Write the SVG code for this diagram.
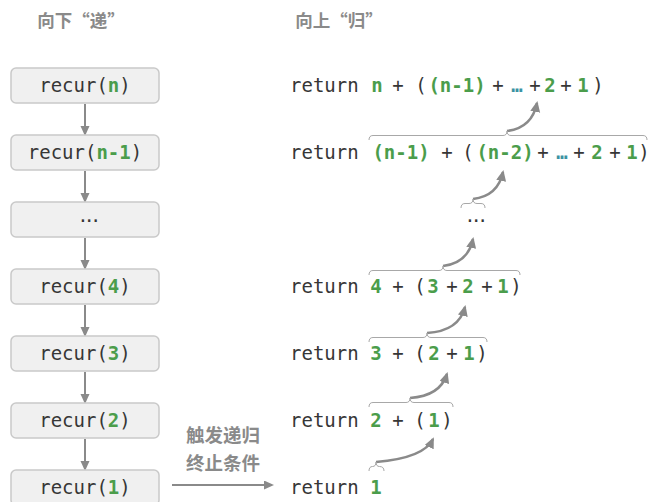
<svg xmlns="http://www.w3.org/2000/svg" width="649" height="502" viewBox="0 0 649 502">
<defs>
<style>
.box{fill:#f0f0f0;stroke:#c9c9c9;stroke-width:1.5}
.mono{font-family:"DejaVu Sans Mono","Liberation Mono",monospace;font-size:19px;fill:#363636}
.t{text-anchor:middle}
.g{fill:#4b9d4b;font-weight:bold}
.e{fill:#3b93a3;font-weight:bold}
.hd{font-family:"Noto Sans CJK SC","Noto Sans",sans-serif;font-size:17.5px;font-weight:bold;fill:#8a8a8a;text-anchor:middle}
.lbl{font-family:"Noto Sans CJK SC","Noto Sans",sans-serif;font-size:18.5px;font-weight:bold;fill:#8a8a8a;text-anchor:middle}
.conn{stroke:#8a8a8a;stroke-width:2;fill:none}
.curve{stroke:#8a8a8a;stroke-width:2.5;fill:none}
.brace{stroke:#a8a8a8;stroke-width:1;fill:none}
</style>
<marker id="ah" markerUnits="userSpaceOnUse" markerWidth="10" markerHeight="10" refX="8" refY="4.5" orient="auto">
<path d="M0,0 L10,4.5 L0,9 z" fill="#8a8a8a"/>
</marker>
<marker id="ah2" markerUnits="userSpaceOnUse" markerWidth="12" markerHeight="12" refX="9" refY="5" orient="auto">
<path d="M0,0 L11,5 L0,10 z" fill="#8a8a8a"/>
</marker>
</defs>
<rect width="649" height="502" fill="#ffffff"/>

<g id="headers">
<text class="hd" x="81" y="27">向下“递”</text>
<text class="hd" x="339" y="27">向上“归”</text>
</g>

<g id="connectors">
<line class="conn" x1="85" y1="104" x2="85" y2="134" marker-end="url(#ah)"/>
<line class="conn" x1="85" y1="171" x2="85" y2="201" marker-end="url(#ah)"/>
<line class="conn" x1="85" y1="238" x2="85" y2="268" marker-end="url(#ah)"/>
<line class="conn" x1="85" y1="305" x2="85" y2="335" marker-end="url(#ah)"/>
<line class="conn" x1="85" y1="372" x2="85" y2="402" marker-end="url(#ah)"/>
<line class="conn" x1="85" y1="439" x2="85" y2="469" marker-end="url(#ah)"/>
<line class="conn" x1="172" y1="485" x2="272" y2="485" marker-end="url(#ah)"/>
<path class="curve" d="M507,131 Q532,128 537,103" marker-end="url(#ah2)"/>
<path class="curve" d="M473,199 Q498,196 503,172" marker-end="url(#ah2)"/>
<path class="curve" d="M443,266 Q468,263 473,239" marker-end="url(#ah2)"/>
<path class="curve" d="M427,333 Q459,331 465,307" marker-end="url(#ah2)"/>
<path class="curve" d="M410,398 Q440,396 447,374" marker-end="url(#ah2)"/>
<path class="curve" d="M376,462 Q424,458 433,439" marker-end="url(#ah2)"/>
</g>

<g id="braces">
<path class="brace" d="M369,140 Q369,135.5 373,135.5 H503 Q507,135.5 507,131 Q507,135.5 511,135.5 H643 Q647,135.5 647,140"/>
<path class="brace" d="M461,208 Q461,203.5 465,203.5 H469 Q473,203.5 473,199 Q473,203.5 477,203.5 H481 Q485,203.5 485,208"/>
<path class="brace" d="M369,275 Q369,270.5 373,270.5 H439 Q443,270.5 443,266 Q443,270.5 447,270.5 H516 Q520,270.5 520,275"/>
<path class="brace" d="M369,342 Q369,337.5 373,337.5 H423 Q427,337.5 427,333 Q427,337.5 431,337.5 H483 Q487,337.5 487,342"/>
<path class="brace" d="M369,407 Q369,402.5 373,402.5 H406 Q410,402.5 410,398 Q410,402.5 414,402.5 H449 Q453,402.5 453,407"/>
<path class="brace" d="M369,471 Q369,466.5 372.5,466.5 Q376,466.5 376,462 Q376,466.5 379.5,466.5 Q384,466.5 384,471"/>
</g>

<g id="node-recur-n">
<rect class="box" x="11" y="68" width="148" height="35" rx="5"/>
<text class="mono t" x="85" y="92">recur(<tspan class="g">n</tspan>)</text>
</g>
<g id="node-recur-n-1">
<rect class="box" x="11" y="135" width="148" height="35" rx="5"/>
<text class="mono t" x="85" y="159">recur(<tspan class="g">n-1</tspan>)</text>
</g>
<g id="node-recur-dots">
<rect class="box" x="11" y="202" width="148" height="35" rx="5"/>
<text class="mono t" x="87" y="222" style="letter-spacing:-4.5px;font-size:18px">...</text>
</g>
<g id="node-recur-4">
<rect class="box" x="11" y="269" width="148" height="35" rx="5"/>
<text class="mono t" x="85" y="293">recur(<tspan class="g">4</tspan>)</text>
</g>
<g id="node-recur-3">
<rect class="box" x="11" y="336" width="148" height="35" rx="5"/>
<text class="mono t" x="85" y="360">recur(<tspan class="g">3</tspan>)</text>
</g>
<g id="node-recur-2">
<rect class="box" x="11" y="403" width="148" height="35" rx="5"/>
<text class="mono t" x="85" y="427">recur(<tspan class="g">2</tspan>)</text>
</g>
<g id="node-recur-1">
<rect class="box" x="11" y="470" width="148" height="35" rx="5"/>
<text class="mono t" x="85" y="494">recur(<tspan class="g">1</tspan>)</text>
</g>

<g id="label-base-case">
<text class="lbl" x="223" y="442">触发递归</text>
<text class="lbl" x="223" y="470">终止条件</text>
</g>

<g id="ret-n">
<text class="mono" x="290" y="92">return</text>
<text class="mono t g" x="377" y="92">n</text>
<text class="mono t" x="398" y="92">+</text>
<text class="mono t" x="421" y="92">(</text>
<text class="mono t g" x="457" y="92">(n-1)</text>
<text class="mono t" x="498" y="92">+</text>
<text class="mono t e" x="517" y="92">…</text>
<text class="mono t" x="535" y="92">+</text>
<text class="mono t g" x="550" y="92">2</text>
<text class="mono t" x="566" y="92">+</text>
<text class="mono t g" x="583" y="92">1</text>
<text class="mono t" x="598" y="92">)</text>
</g>
<g id="ret-n-1">
<text class="mono" x="290" y="159">return</text>
<text class="mono t g" x="401" y="159">(n-1)</text>
<text class="mono t" x="447" y="159">+</text>
<text class="mono t" x="468" y="159">(</text>
<text class="mono t g" x="505" y="159">(n-2)</text>
<text class="mono t" x="543" y="159">+</text>
<text class="mono t e" x="562" y="159">…</text>
<text class="mono t" x="579" y="159">+</text>
<text class="mono t g" x="597" y="159">2</text>
<text class="mono t" x="615" y="159">+</text>
<text class="mono t g" x="632" y="159">1</text>
<text class="mono t" x="644" y="159">)</text>
</g>
<g id="ret-dots">
<text class="mono t" x="474" y="222" style="letter-spacing:-4.5px;font-size:18px">...</text>
</g>
<g id="ret-4">
<text class="mono" x="290" y="293">return</text>
<text class="mono t g" x="376" y="293">4</text>
<text class="mono t" x="398" y="293">+</text>
<text class="mono t" x="420" y="293">(</text>
<text class="mono t g" x="433" y="293">3</text>
<text class="mono t" x="452" y="293">+</text>
<text class="mono t g" x="468" y="293">2</text>
<text class="mono t" x="487" y="293">+</text>
<text class="mono t g" x="503" y="293">1</text>
<text class="mono t" x="516" y="293">)</text>
</g>
<g id="ret-3">
<text class="mono" x="290" y="360">return</text>
<text class="mono t g" x="376" y="360">3</text>
<text class="mono t" x="398" y="360">+</text>
<text class="mono t" x="420" y="360">(</text>
<text class="mono t g" x="434" y="360">2</text>
<text class="mono t" x="452" y="360">+</text>
<text class="mono t g" x="469" y="360">1</text>
<text class="mono t" x="482" y="360">)</text>
</g>
<g id="ret-2">
<text class="mono" x="290" y="427">return</text>
<text class="mono t g" x="376" y="427">2</text>
<text class="mono t" x="398" y="427">+</text>
<text class="mono t" x="420" y="427">(</text>
<text class="mono t g" x="434" y="427">1</text>
<text class="mono t" x="447" y="427">)</text>
</g>
<g id="ret-1">
<text class="mono" x="290" y="494">return</text>
<text class="mono t g" x="376" y="494">1</text>
</g>
</svg>
